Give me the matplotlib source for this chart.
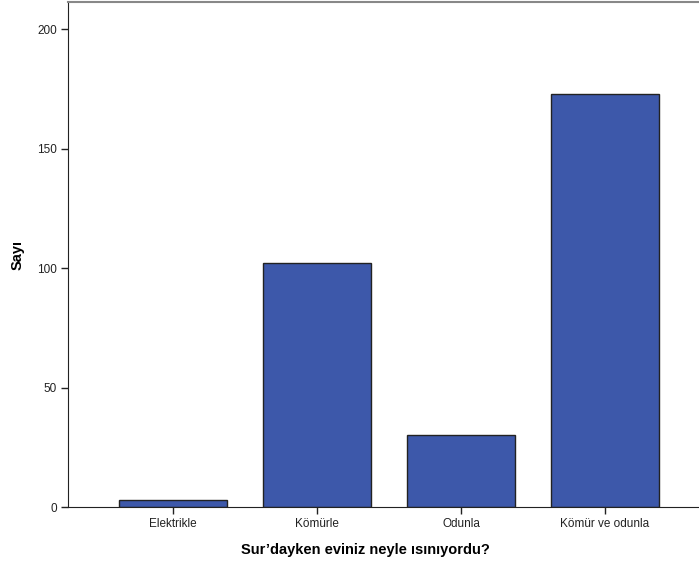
import matplotlib.pyplot as plt

plt.rcParams['font.family'] = ['Liberation Sans', 'DejaVu Sans']

categories = ['Elektrikle', 'Kömürle', 'Odunla', 'Kömür ve odunla']
counts = [3, 102, 30, 173]
y_ticks = [0, 50, 100, 150, 200]

fig = plt.figure(figsize=(6.99, 5.64), dpi=100)
ax = fig.add_axes([68 / 699, 57 / 564, 642 / 699, 505 / 564])

x = range(len(categories))
ax.bar(x, counts, width=0.755, color='#3d58aa', edgecolor='#222222', linewidth=1.0)

ax.set_xlim(-0.73, 3.73)
ax.set_ylim(0, 211.3)
ax.set_xticks(list(x))
ax.set_xticklabels(categories, fontsize=8.5)
ax.set_yticks(y_ticks)
ax.set_yticklabels([str(v) for v in y_ticks], fontsize=8.5)
ax.tick_params(direction='out', length=5, width=1, colors='#222222', pad=3)

ax.spines['top'].set_color('#888888')
ax.spines['top'].set_linewidth(1.5)
ax.spines['left'].set_color('#222222')
ax.spines['bottom'].set_color('#222222')
ax.spines['right'].set_visible(False)

ax.set_ylabel('Sayı', fontsize=10.5, fontweight='bold')
ax.yaxis.set_label_coords((25 - 68) / 642, (507 - 255) / 505)
ax.set_xlabel('Sur’dayken eviniz neyle ısınıyordu?', fontsize=10.5, fontweight='bold')
ax.xaxis.set_label_coords((365 - 68) / 642, -(543 - 507) / 505)

fig.savefig('out.png', dpi=100)
